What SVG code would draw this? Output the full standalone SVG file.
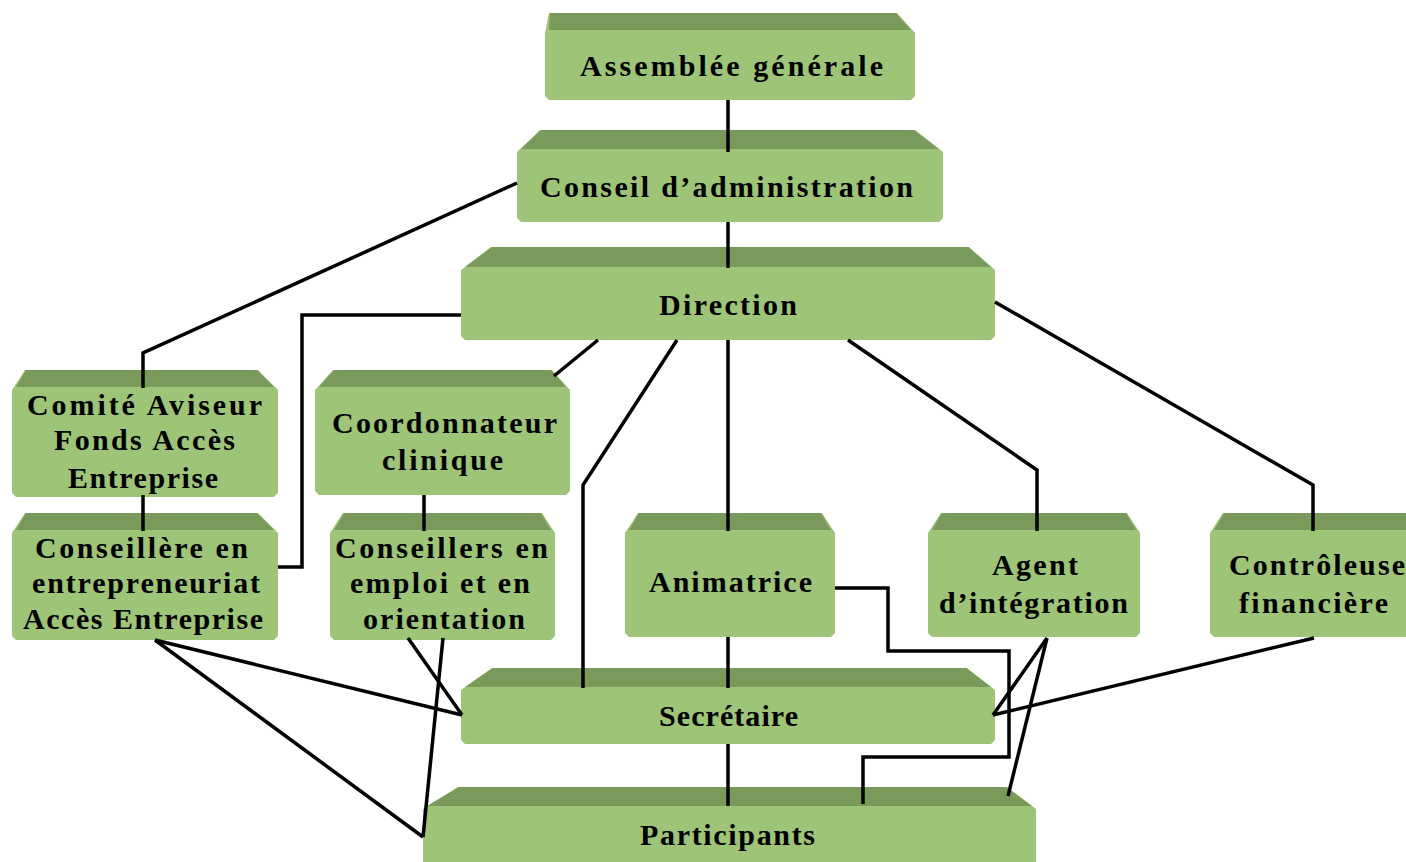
<svg xmlns="http://www.w3.org/2000/svg" width="1406" height="862" viewBox="0 0 1406 862">
<style>
.face{fill:#9dc477;}
.top{fill:#799a5b;}
.t{font-family:"Liberation Serif","DejaVu Serif",serif;font-weight:bold;font-size:30px;fill:#000;}
.c{fill:none;stroke:#000;stroke-width:3.5;stroke-linejoin:miter;stroke-linecap:butt;}
</style>
<rect width="1406" height="862" fill="#fff"/>
<g id="n-assemblee">
<polygon class="face" points="549,13 897,13 915,33 915,96 911,100 549,100 545,96 545,33"/>
<polygon class="top" points="550,13 896,13 911,30 549,30"/>
<text class="t" x="580" y="76" textLength="303" lengthAdjust="spacing">Assemblée générale</text>
</g>
<g id="n-conseil">
<polygon class="face" points="540,130 915,130 943,152 943,218 939,222 521,222 517,218 517,152"/>
<polygon class="top" points="541,130 914,130 939,149 521,149"/>
<text class="t" x="540" y="197" textLength="373" lengthAdjust="spacing">Conseil d’administration</text>
</g>
<g id="n-direction">
<polygon class="face" points="491,247 969,247 995,270 995,336 991,340 465,340 461,336 461,270"/>
<polygon class="top" points="492,247 968,247 991,267 465,267"/>
<text class="t" x="659" y="315" textLength="138" lengthAdjust="spacing">Direction</text>
</g>
<g id="n-comite">
<polygon class="face" points="25,370 258,370 278,390 278,493 274,497 16,497 12,493 12,390"/>
<polygon class="top" points="26,370 257,370 274,387 16,387"/>
<text class="t" x="27" y="415" textLength="235" lengthAdjust="spacing">Comité Aviseur</text>
<text class="t" x="54" y="450" textLength="181" lengthAdjust="spacing">Fonds Accès</text>
<text class="t" x="68" y="488" textLength="150" lengthAdjust="spacing">Entreprise</text>
</g>
<g id="n-conseillere">
<polygon class="face" points="25,513 258,513 278,533 278,636 274,640 16,640 12,636 12,533"/>
<polygon class="top" points="26,513 257,513 274,530 16,530"/>
<text class="t" x="35" y="558" textLength="213" lengthAdjust="spacing">Conseillère en</text>
<text class="t" x="32" y="593" textLength="228" lengthAdjust="spacing">entrepreneuriat</text>
<text class="t" x="23" y="629" textLength="240" lengthAdjust="spacing">Accès Entreprise</text>
</g>
<g id="n-coordonnateur">
<polygon class="face" points="333,370 552,370 570,390 570,491 566,495 319,495 315,491 315,390"/>
<polygon class="top" points="334,370 551,370 566,387 319,387"/>
<text class="t" x="332" y="433" textLength="225" lengthAdjust="spacing">Coordonnateur</text>
<text class="t" x="382" y="470" textLength="121" lengthAdjust="spacing">clinique</text>
</g>
<g id="n-conseillers">
<polygon class="face" points="343,513 542,513 555,533 555,636 551,640 334,640 330,636 330,533"/>
<polygon class="top" points="344,513 541,513 551,530 334,530"/>
<text class="t" x="335" y="558" textLength="213" lengthAdjust="spacing">Conseillers en</text>
<text class="t" x="350" y="593" textLength="180" lengthAdjust="spacing">emploi et en</text>
<text class="t" x="363" y="629" textLength="162" lengthAdjust="spacing">orientation</text>
</g>
<g id="n-animatrice">
<polygon class="face" points="638,513 822,513 835,533 835,633 831,637 629,637 625,633 625,533"/>
<polygon class="top" points="639,513 821,513 831,530 629,530"/>
<text class="t" x="649" y="592" textLength="163" lengthAdjust="spacing">Animatrice</text>
</g>
<g id="n-agent">
<polygon class="face" points="941,513 1127,513 1140,533 1140,633 1136,637 932,637 928,633 928,533"/>
<polygon class="top" points="942,513 1126,513 1136,530 932,530"/>
<text class="t" x="992" y="575" textLength="86" lengthAdjust="spacing">Agent</text>
<text class="t" x="939" y="613" textLength="189" lengthAdjust="spacing">d’intégration</text>
</g>
<g id="n-controleuse">
<polygon class="face" points="1223,513 1407,513 1420,533 1420,633 1416,637 1214,637 1210,633 1210,533"/>
<polygon class="top" points="1224,513 1406,513 1416,530 1214,530"/>
<text class="t" x="1229" y="575" textLength="176" lengthAdjust="spacing">Contrôleuse</text>
<text class="t" x="1239" y="613" textLength="149" lengthAdjust="spacing">financière</text>
</g>
<g id="n-secretaire">
<polygon class="face" points="492,668 967,668 995,690 995,740 991,744 465,744 461,740 461,690"/>
<polygon class="top" points="493,668 966,668 991,687 465,687"/>
<text class="t" x="659" y="726" textLength="139" lengthAdjust="spacing">Secrétaire</text>
</g>
<g id="n-participants">
<polygon class="face" points="458,787 1007,787 1036,809 1036,870 423,870 423,809"/>
<polygon class="top" points="459,787 1006,787 1032,806 427,806"/>
<text class="t" x="640" y="845" textLength="175" lengthAdjust="spacing">Participants</text>
</g>
<g id="connectors">
<polyline class="c" points="728,100 728,152"/>
<polyline class="c" points="728,222 728,268"/>
<polyline class="c" points="728,340 728,531"/>
<polyline class="c" points="728,637 728,688"/>
<polyline class="c" points="728,744 728,806"/>
<polyline class="c" points="143,495 143,531"/>
<polyline class="c" points="424,495 424,531"/>
<polyline class="c" points="517,183 143,353 143,388"/>
<polyline class="c" points="461,315 302,315 302,567 278,567"/>
<polyline class="c" points="598,340 554,376"/>
<polyline class="c" points="677,340 583,485 583,688"/>
<polyline class="c" points="848,340 1037,470 1037,531"/>
<polyline class="c" points="995,302 1313,485 1313,531"/>
<polyline class="c" points="155,640 462,715"/>
<polyline class="c" points="155,640 423,837"/>
<polyline class="c" points="408,638 462,715"/>
<polyline class="c" points="443,638 423,837"/>
<polyline class="c" points="835,588 888,588 888,651 1009,651 1009,757 863,757 863,804"/>
<polyline class="c" points="1047,638 993,715"/>
<polyline class="c" points="1047,638 1008,796"/>
<polyline class="c" points="1314,638 993,715"/>
</g>
</svg>
